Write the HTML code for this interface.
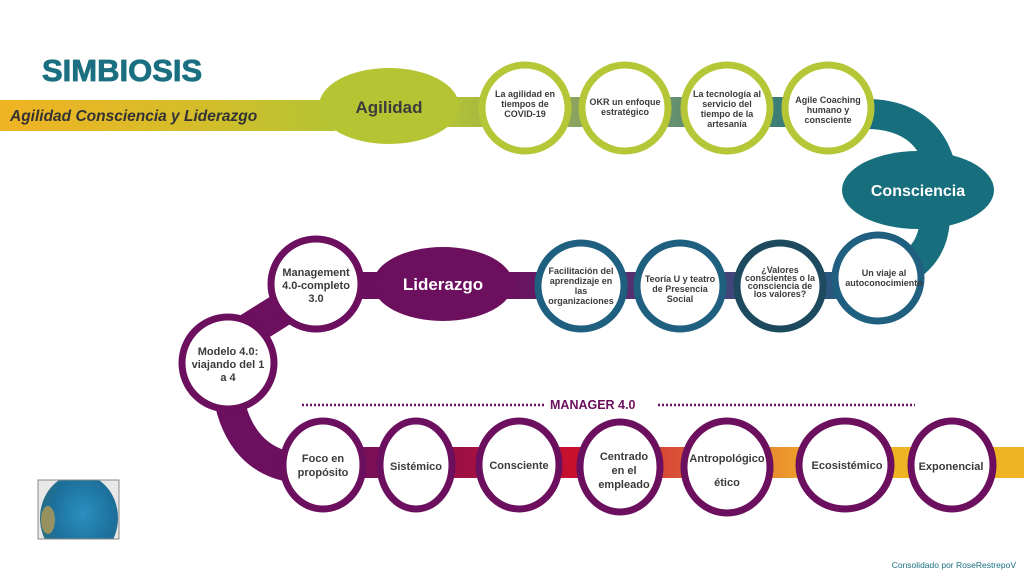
<!DOCTYPE html>
<html><head><meta charset="utf-8"><style>
html,body{margin:0;padding:0;background:#fff;}
svg{display:block;}
text{font-family:"Liberation Sans",sans-serif;font-weight:bold;}
.s{font-family:"Liberation Sans Narrow","Liberation Sans",sans-serif;font-size:9px;fill:#3b3b3b;text-anchor:middle;}
.m{font-size:11px;fill:#3b3b3b;text-anchor:middle;}
</style></head><body>
<svg width="1024" height="576" viewBox="0 0 1024 576" xmlns="http://www.w3.org/2000/svg">
<defs>
<linearGradient id="ban" x1="0" x2="1"><stop offset="0" stop-color="#f0b323"/><stop offset="0.6" stop-color="#d4bd2a"/><stop offset="1" stop-color="#b5c433"/></linearGradient>
<linearGradient id="top" x1="0" x2="1"><stop offset="0" stop-color="#b5c433"/><stop offset="0.4" stop-color="#7f9a6a"/><stop offset="1" stop-color="#176f7e"/></linearGradient>
<linearGradient id="mid" x1="0" x2="1"><stop offset="0" stop-color="#6c0f5e"/><stop offset="0.5" stop-color="#4a3f79"/><stop offset="1" stop-color="#1f5f80"/></linearGradient>
<linearGradient id="bot" x1="0" x2="1"><stop offset="0" stop-color="#6c0f5e"/><stop offset="0.35" stop-color="#c8102e"/><stop offset="0.55" stop-color="#e0663a"/><stop offset="0.72" stop-color="#f0b323"/><stop offset="1" stop-color="#f0b323"/></linearGradient>
<radialGradient id="globe" cx="0.55" cy="0.45" r="0.6"><stop offset="0" stop-color="#2a8fc0"/><stop offset="0.7" stop-color="#1d6f9a"/><stop offset="1" stop-color="#2f6e7a"/></radialGradient>
<clipPath id="gc"><rect x="38" y="480" width="81" height="59"/></clipPath>
</defs>

<text x="42" y="81" font-size="31" fill="#1a6f80" stroke="#1a6f80" stroke-width="0.8">SIMBIOSIS</text>
<rect x="0" y="100" width="335" height="31" fill="url(#ban)"/>
<text x="10" y="121" font-size="15.5" font-style="italic" fill="#333">Agilidad Consciencia y Liderazgo</text>

<rect x="440" y="97" width="430" height="30" fill="url(#top)"/>
<path d="M860 114 Q925 112 940 165" stroke="#176f7e" stroke-width="30" fill="none"/>
<path d="M935 215 Q935 255 900 272" stroke="#176f7e" stroke-width="30" fill="none"/>

<ellipse cx="389" cy="106" rx="70" ry="38" fill="#b5c433"/>
<text x="389" y="113" font-size="17" fill="#3b3b3b" text-anchor="middle">Agilidad</text>

<g fill="#fff" stroke="#b5c637" stroke-width="7">
<circle cx="525" cy="108" r="43"/><circle cx="625" cy="108" r="43"/><circle cx="727" cy="108" r="43"/><circle cx="828" cy="108" r="43"/>
</g>
<text class="s"><tspan x="525" y="97">La agilidad en</tspan><tspan x="525" y="107">tiempos de</tspan><tspan x="525" y="117">COVID-19</tspan></text>
<text class="s"><tspan x="625" y="105">OKR un enfoque</tspan><tspan x="625" y="115">estratégico</tspan></text>
<text class="s"><tspan x="727" y="97">La tecnología al</tspan><tspan x="727" y="107">servicio del</tspan><tspan x="727" y="117">tiempo de la</tspan><tspan x="727" y="127">artesanía</tspan></text>
<text class="s"><tspan x="828" y="103">Agile Coaching</tspan><tspan x="828" y="113">humano y</tspan><tspan x="828" y="123">consciente</tspan></text>

<ellipse cx="918" cy="190" rx="76" ry="39" fill="#176f7e"/>
<text x="918" y="196" font-size="16" fill="#fff" text-anchor="middle">Consciencia</text>

<rect x="500" y="272" width="380" height="27" fill="url(#mid)"/>
<path d="M300 298 L225 345" stroke="#6c0f5e" stroke-width="34" fill="none"/>
<rect x="350" y="272" width="40" height="27" fill="#6c0f5e"/>
<path d="M228 395 Q240 460 295 468" stroke="#6c0f5e" stroke-width="30" fill="none"/>

<ellipse cx="443" cy="284" rx="70" ry="37" fill="#6c0f5e"/>
<text x="443" y="290" font-size="17" fill="#fff" text-anchor="middle">Liderazgo</text>

<g fill="#fff" stroke-width="7">
<circle cx="581" cy="286" r="43" stroke="#1f5f80"/><circle cx="680" cy="286" r="43" stroke="#1f5f80"/><circle cx="780" cy="286" r="43" stroke="#1d4a5e"/><circle cx="878" cy="278" r="43" stroke="#1f5f80"/>
<circle cx="316" cy="284" r="45" stroke="#6c0f5e"/><circle cx="228" cy="363" r="46" stroke="#6c0f5e"/>
</g>
<text class="s"><tspan x="581" y="274">Facilitación del</tspan><tspan x="581" y="284">aprendizaje en</tspan><tspan x="581" y="294">las</tspan><tspan x="581" y="304">organizaciones</tspan></text>
<text class="s"><tspan x="680" y="282">Teoría U y teatro</tspan><tspan x="680" y="292">de Presencia</tspan><tspan x="680" y="302">Social</tspan></text>
<text class="s"><tspan x="780" y="273">¿Valores</tspan><tspan x="780" y="281">conscientes o la</tspan><tspan x="780" y="289">consciencia de</tspan><tspan x="780" y="297">los valores?</tspan></text>
<text class="s"><tspan x="884" y="276">Un viaje al</tspan><tspan x="884" y="286">autoconocimiento</tspan></text>
<text class="m"><tspan x="316" y="276">Management</tspan><tspan x="316" y="289">4.0-completo</tspan><tspan x="316" y="302">3.0</tspan></text>
<text class="m"><tspan x="228" y="355">Modelo 4.0:</tspan><tspan x="228" y="368">viajando del 1</tspan><tspan x="228" y="381">a 4</tspan></text>

<line x1="302" y1="405" x2="546" y2="405" stroke="#6c0f5e" stroke-width="2.5" stroke-dasharray="2,2"/>
<line x1="658" y1="405" x2="915" y2="405" stroke="#6c0f5e" stroke-width="2.5" stroke-dasharray="2,2"/>
<text x="550" y="409" font-size="12.5" fill="#6c0f5e">MANAGER 4.0</text>

<rect x="330" y="447" width="694" height="31" fill="url(#bot)"/>
<g fill="#fff" stroke="#6c0f5e" stroke-width="7">
<ellipse cx="323" cy="465" rx="40" ry="44"/><ellipse cx="416" cy="465" rx="36" ry="44"/><ellipse cx="519" cy="465" rx="40" ry="44"/><ellipse cx="620" cy="467" rx="40" ry="45"/><ellipse cx="727" cy="467" rx="43" ry="46"/><ellipse cx="845" cy="465" rx="46" ry="44"/><ellipse cx="952" cy="465" rx="41" ry="44"/>
</g>
<text class="s" style="font-size:11px"><tspan x="323" y="462">Foco en</tspan><tspan x="323" y="476">propósito</tspan></text>
<text class="s" style="font-size:11px"><tspan x="416" y="470">Sistémico</tspan></text>
<text class="s" style="font-size:11px"><tspan x="519" y="469">Consciente</tspan></text>
<text class="s" style="font-size:11px"><tspan x="624" y="460">Centrado</tspan><tspan x="624" y="474">en el</tspan><tspan x="624" y="488">empleado</tspan></text>
<text class="s" style="font-size:11px"><tspan x="727" y="462">Antropológico</tspan><tspan x="727" y="486">ético</tspan></text>
<text class="s" style="font-size:11px"><tspan x="847" y="469">Ecosistémico</tspan></text>
<text class="s" style="font-size:11px"><tspan x="951" y="470">Exponencial</tspan></text>

<rect x="38" y="480" width="81" height="59" fill="#e8e8e8"/>
<g clip-path="url(#gc)">
<ellipse cx="79" cy="518" rx="39" ry="44" fill="url(#globe)"/>
<ellipse cx="48" cy="520" rx="7" ry="14" fill="#c9a04a" opacity="0.7"/>
</g>
<rect x="38" y="480" width="81" height="59" fill="none" stroke="#888" stroke-width="1"/>

<text x="1016" y="568" font-size="8.5" fill="#1a6f80" text-anchor="end" style="font-weight:normal">Consolidado por RoseRestrepoV</text>
</svg>
</body></html>
